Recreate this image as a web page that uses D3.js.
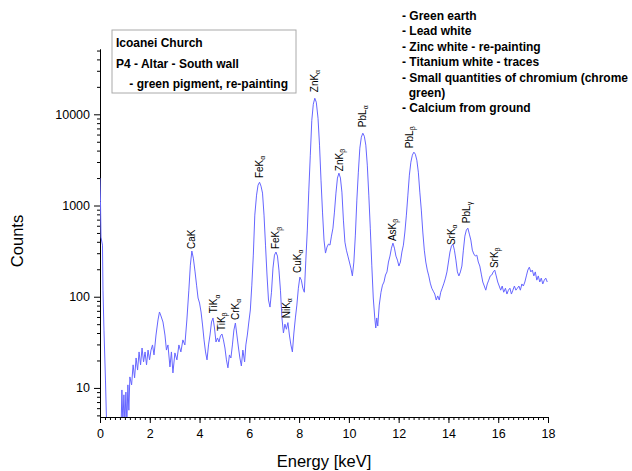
<!DOCTYPE html>
<html>
<head>
<meta charset="utf-8">
<script src="https://cdn.jsdelivr.net/npm/d3@7"></script>
<style>
  body { margin: 0; background: #fff; }
  text { font-family: "Liberation Sans", Arial, sans-serif; fill: #000; }
  .axis path, .axis line { stroke: #000; stroke-width: 1; }
  .axis text { font-size: 12.5px; }
</style>
</head>
<body>
<div id="chart"></div>
<script>
// XRF spectrum (energy in keV, counts)
var energy = [0, 0.02, 0.04, 0.10, 0.12, 0.16, 0.22, 0.26, 0.28, 0.84,
  0.88, 0.92, 0.96, 1.00, 1.04, 1.08, 1.12, 1.16, 1.20, 1.27,
  1.33, 1.39, 1.45, 1.51, 1.57, 1.63, 1.69, 1.75, 1.81, 1.87,
  1.93, 1.99, 2.05, 2.11, 2.17, 2.25, 2.33, 2.39, 2.45, 2.53,
  2.61, 2.67, 2.73, 2.81, 2.87, 2.93, 3.01, 3.09, 3.17, 3.25,
  3.33, 3.41, 3.49, 3.57, 3.63, 3.69, 3.75, 3.82, 3.88, 3.94,
  4.00, 4.06, 4.12, 4.18, 4.24, 4.30, 4.36, 4.42, 4.48, 4.54,
  4.60, 4.66, 4.72, 4.78, 4.84, 4.90, 4.96, 5.02, 5.08, 5.14,
  5.20, 5.26, 5.32, 5.38, 5.44, 5.50, 5.56, 5.62, 5.68, 5.74,
  5.81, 5.86, 5.92, 5.98, 6.04, 6.10, 6.16, 6.22, 6.29, 6.35,
  6.41, 6.47, 6.53, 6.59, 6.65, 6.71, 6.77, 6.83, 6.89, 6.95,
  7.01, 7.07, 7.13, 7.19, 7.25, 7.31, 7.37, 7.43, 7.49, 7.55,
  7.61, 7.67, 7.73, 7.79, 7.85, 7.91, 7.97, 8.03, 8.09, 8.15,
  8.21, 8.27, 8.33, 8.39, 8.45, 8.51, 8.57, 8.63, 8.69, 8.76,
  8.82, 8.88, 8.94, 9.00, 9.06, 9.12, 9.18, 9.24, 9.30, 9.36,
  9.42, 9.48, 9.54, 9.60, 9.66, 9.72, 9.78, 9.84, 9.90, 9.96,
  10.02, 10.08, 10.14, 10.20, 10.26, 10.32, 10.38, 10.44, 10.50, 10.56,
  10.62, 10.68, 10.74, 10.80, 10.86, 10.92, 10.98, 11.04, 11.08, 11.12,
  11.16, 11.22, 11.29, 11.35, 11.41, 11.47, 11.53, 11.59, 11.65, 11.71,
  11.77, 11.83, 11.89, 11.95, 12.01, 12.07, 12.13, 12.19, 12.25, 12.31,
  12.37, 12.43, 12.49, 12.55, 12.61, 12.67, 12.73, 12.79, 12.85, 12.91,
  12.97, 13.03, 13.09, 13.15, 13.21, 13.27, 13.33, 13.39, 13.45, 13.51,
  13.57, 13.63, 13.69, 13.75, 13.82, 13.88, 13.94, 14.00, 14.06, 14.12,
  14.18, 14.24, 14.30, 14.36, 14.42, 14.48, 14.54, 14.60, 14.66, 14.72,
  14.78, 14.84, 14.90, 14.96, 15.02, 15.08, 15.14, 15.20, 15.26, 15.32,
  15.38, 15.44, 15.50, 15.56, 15.62, 15.68, 15.74, 15.80, 15.86, 15.92,
  15.98, 16.04, 16.10, 16.16, 16.22, 16.29, 16.35, 16.41, 16.47, 16.53,
  16.59, 16.65, 16.71, 16.77, 16.83, 16.89, 16.95, 17.01, 17.07, 17.13,
  17.19, 17.25, 17.31, 17.37, 17.43, 17.49, 17.55, 17.61, 17.67, 17.73,
  17.79, 17.85, 17.91, 17.97];

var counts = [2000, 1100, 450, 368, 118, 43, 12.2, 4.5, 3, 3,
  9.5, 4, 8.4, 4, 9, 4, 10.8, 5.7, 13.2, 10.8,
  17.9, 12.9, 21.3, 15.7, 24.8, 17.9, 27.4, 19.3, 24.8, 17.9,
  26, 20.3, 26, 29.6, 23, 38, 55.6, 68, 61.5, 52.8,
  38, 26, 29.6, 17, 24.8, 14.6, 24.2, 20.3, 29.6, 24.8,
  33.6, 29.6, 55.6, 118, 222, 317, 265, 187, 134, 96.8,
  85.3, 68, 49, 33.6, 24.8, 20.3, 29.6, 38, 52.8, 58.5,
  45.4, 31.9, 35.3, 31.9, 37.2, 39, 33.6, 27.4, 20.3, 16.6,
  23, 21.3, 29.6, 43.1, 51.5, 38, 28.1, 21.3, 17.4, 26,
  19.3, 29.6, 38, 52.8, 71.5, 134, 286, 785, 1300, 1672,
  1800, 1630, 1368, 785, 368, 173, 92, 77, 112, 206,
  286, 309, 279, 196, 118, 58.5, 40, 50, 44, 52,
  38, 29.6, 24.8, 40, 58.5, 81, 124, 164, 152, 124,
  112, 252, 538, 1475, 3565, 8610, 12900, 15000, 13580, 9060,
  4590, 1897, 847, 418, 301, 350, 378, 368, 462, 565,
  847, 1368, 2000, 2265, 2000, 1403, 692, 397, 324, 279,
  240, 206, 169, 240, 474, 1146, 2323, 4256, 5610, 6210,
  5755, 4590, 2773, 1300, 565, 222, 96.8, 58.5, 45.4, 58.5,
  47.7, 81, 112, 134, 145, 173, 187, 240, 279, 341,
  387, 341, 279, 252, 217, 240, 309, 368, 512, 785,
  1300, 2153, 2986, 3565, 3846, 3655, 3140, 2323, 1403, 891,
  512, 324, 240, 196, 169, 141, 124, 115, 107, 92,
  102, 92, 112, 124, 141, 160, 187, 240, 309, 359,
  378, 324, 252, 187, 169, 187, 217, 324, 462, 538,
  565, 486, 418, 324, 294, 279, 286, 240, 217, 177,
  145, 131, 118, 138, 152, 169, 173, 187, 196, 169,
  145, 131, 118, 131, 112, 124, 107, 118, 124, 107,
  118, 131, 118, 124, 131, 118, 138, 131, 145, 169,
  196, 211, 187, 196, 169, 187, 152, 169, 145, 160,
  138, 152, 160, 145];

// peak labels: element, line subscript, energy and the count at the label foot
var peakNames = ["CaK", "TiK", "TiK", "CrK", "FeK", "FeK", "NiK", "CuK",
  "ZnK", "ZnK", "PbL", "AsK", "PbL", "SrK", "PbL", "SrK"];
var peakSubs = ["", "α", "β", "α", "α", "β", "α", "α",
  "α", "β", "α", "β", "β", "α", "γ", "β"];
var peakEnergy = [3.69, 4.58, 4.89, 5.45, 6.40, 7.07, 7.50, 7.94,
  8.63, 9.62, 10.55, 11.75, 12.45, 14.13, 14.73, 15.86];
var peakCounts = [333, 66, 42, 55.6, 2000, 333, 58, 182,
  17460, 2380, 7230, 407, 4256, 368, 641, 206];

var xTicks = [0, 2, 4, 6, 8, 10, 12, 14, 16, 18];
var yTicks = [10, 100, 1000, 10000];

var boxLines = ["Icoanei Church", "P4 - Altar - South wall", "    - green pigment, re-painting"];
var noteLines = ["- Green earth", "- Lead white", "- Zinc white - re-painting",
  "- Titanium white - traces", "- Small quantities of chromium (chrome",
  "  green)", "- Calcium from ground"];

var W = 632, H = 471;
var margin = {top: 49, right: 84, bottom: 54, left: 100};
var width = W - margin.left - margin.right,
    height = H - margin.top - margin.bottom;

var svg = d3.select("#chart").append("svg")
  .attr("width", W).attr("height", H);

var g = svg.append("g")
  .attr("transform", "translate(" + margin.left + "," + margin.top + ")");

var x = d3.scaleLinear().domain([0, 18]).range([0, width]);
var y = d3.scaleLog().domain([4.8, 52000]).range([height, 0]);

// minor ticks
var yMinor = [];
[1, 10, 100, 1000, 10000].forEach(function(b) {
  for (var k = 2; k <= 9; k++) {
    var v = b * k;
    if (v >= 4.8 && v <= 52000) yMinor.push(v);
  }
});
var xMinor = d3.range(0, 18.001, 0.2);

g.append("g").attr("class", "axis")
  .attr("transform", "translate(0," + height + ")")
  .call(d3.axisBottom(x).tickValues(xMinor).tickSize(3).tickFormat("").tickSizeOuter(0));
g.append("g").attr("class", "axis")
  .attr("transform", "translate(0," + height + ")")
  .call(d3.axisBottom(x).tickValues(xTicks).tickSize(6).tickPadding(6).tickSizeOuter(0)
    .tickFormat(d3.format("d")));

g.append("g").attr("class", "axis")
  .call(d3.axisLeft(y).tickValues(yMinor).tickSize(3).tickFormat("").tickSizeOuter(0));
g.append("g").attr("class", "axis")
  .call(d3.axisLeft(y).tickValues(yTicks).tickSize(6).tickPadding(4).tickSizeOuter(0)
    .tickFormat(d3.format("d")));

// spectrum
svg.append("clipPath").attr("id", "clip")
  .append("rect").attr("x", 0).attr("y", 0).attr("width", width + 2).attr("height", height);

var data = energy.map(function(e, i) { return {e: e, c: counts[i]}; });
var line = d3.line()
  .x(function(d) { return x(d.e); })
  .y(function(d) { return y(d.c); });

g.append("path")
  .attr("clip-path", "url(#clip)")
  .attr("d", line(data))
  .attr("fill", "none")
  .attr("stroke", "#6666ff")
  .attr("stroke-width", 1)
  .attr("stroke-linejoin", "round");

// peak labels
peakNames.forEach(function(n, i) {
  var px = x(peakEnergy[i]), py = y(peakCounts[i]);
  var t = g.append("text")
    .attr("transform", "translate(" + px + "," + py + ") rotate(-90)")
    .attr("dy", "0.35em")
    .style("font-size", "10px")
    .text(n);
  if (peakSubs[i]) {
    t.append("tspan")
      .attr("dy", "0.3em")
      .style("font-size", "7px")
      .text(peakSubs[i]);
  }
});

// axis titles
svg.append("text")
  .attr("x", margin.left + width / 2)
  .attr("y", 467)
  .attr("text-anchor", "middle")
  .style("font-size", "16.5px")
  .text("Energy [keV]");

svg.append("text")
  .attr("transform", "translate(23,241) rotate(-90)")
  .attr("text-anchor", "middle")
  .style("font-size", "16.5px")
  .text("Counts");

// sample box
svg.append("rect")
  .attr("x", 112).attr("y", 30).attr("width", 184).attr("height", 63)
  .attr("fill", "#fff").attr("stroke", "#aaa").attr("stroke-width", 1);

svg.selectAll(".box-line").data(boxLines).enter().append("text")
  .attr("class", "box-line")
  .attr("x", 116)
  .attr("y", function(d, i) { return 47 + i * 20.5; })
  .style("font-size", "12px")
  .style("font-weight", "bold")
  .attr("xml:space", "preserve")
  .text(function(d) { return d; });

// pigment notes
svg.selectAll(".note").data(noteLines).enter().append("text")
  .attr("class", "note")
  .attr("x", 402)
  .attr("y", function(d, i) { return 20 + i * 15.4; })
  .style("font-size", "12px")
  .style("font-weight", "bold")
  .attr("xml:space", "preserve")
  .text(function(d) { return d; });
</script>
</body>
</html>
